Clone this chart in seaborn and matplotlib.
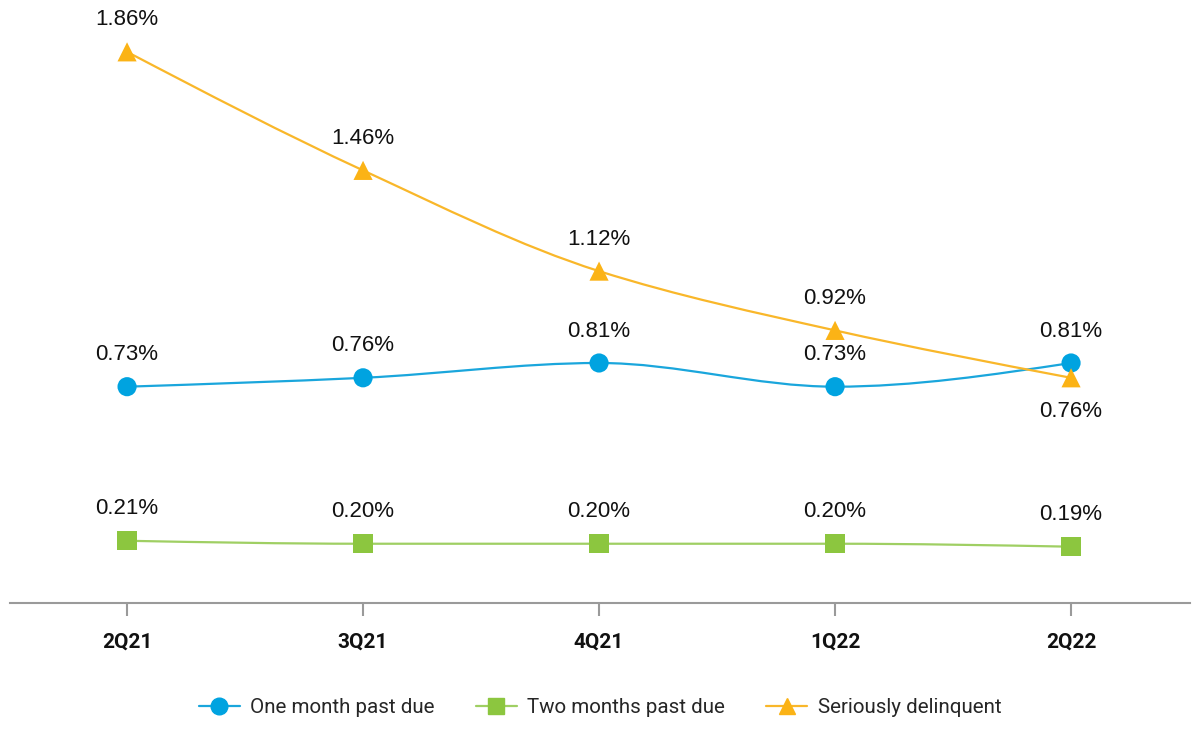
import numpy as np
import pandas as pd
import matplotlib
matplotlib.use("Agg")
import matplotlib.pyplot as plt
import seaborn as sns
from matplotlib.path import Path
from matplotlib.patches import PathPatch
from matplotlib.lines import Line2D

quarters = ["2Q21", "3Q21", "4Q21", "1Q22", "2Q22"]
one_month = [0.73, 0.76, 0.81, 0.73, 0.81]
two_months = [0.21, 0.20, 0.20, 0.20, 0.19]
serious = [1.86, 1.46, 1.12, 0.92, 0.76]
series_names = ["One month past due", "Two months past due", "Seriously delinquent"]
colors = ["#00a3e0", "#8cc63f", "#fbb316"]
line_colors = ["#1aa6dc", "#9fcf63", "#f9b72a"]
markers = ["o", "s", "^"]
label_below = {("Seriously delinquent", 4)}

sns.set_theme(style="white")
plt.rcParams["font.family"] = ["Liberation Sans", "DejaVu Sans"]
narrow = "Roboto"

fig = plt.figure(figsize=(12, 7.5), dpi=100)
ax = fig.add_axes([10 / 1200, 147 / 750, 1180 / 1200, 603 / 750])

df = pd.DataFrame({
    "quarter": quarters * 3,
    "x": list(range(len(quarters))) * 3,
    "value": one_month + two_months + serious,
    "series": sum([[n] * len(quarters) for n in series_names], []),
})


def monotone_path(xs, ys):
    xs = np.asarray(xs, float)
    ys = np.asarray(ys, float)
    n = len(xs)
    h = np.diff(xs)
    d = np.diff(ys) / h
    m = np.zeros(n)
    for i in range(1, n - 1):
        if d[i - 1] * d[i] <= 0:
            m[i] = 0
        else:
            m[i] = 3 * (h[i - 1] + h[i]) / ((2 * h[i] + h[i - 1]) / d[i - 1] + (h[i] + 2 * h[i - 1]) / d[i])
    m[0] = (3 * d[0] - m[1]) / 2
    m[-1] = (3 * d[-1] - m[-2]) / 2
    verts = [(xs[0], ys[0])]
    codes = [Path.MOVETO]
    for i in range(n - 1):
        dx = h[i] / 3
        verts += [(xs[i] + dx, ys[i] + m[i] * dx), (xs[i + 1] - dx, ys[i + 1] - m[i + 1] * dx), (xs[i + 1], ys[i + 1])]
        codes += [Path.CURVE4] * 3
    return Path(verts, codes)


for name, lc in zip(series_names, line_colors):
    sub = df[df.series == name]
    ax.add_patch(PathPatch(monotone_path(sub.x, sub.value), facecolor="none", edgecolor=lc, lw=1.6, zorder=2))

sns.scatterplot(data=df, x="x", y="value", hue="series", style="series",
                palette=dict(zip(series_names, colors)),
                markers=dict(zip(series_names, markers)),
                s=190, edgecolor="none", linewidth=0, ax=ax, legend=False, zorder=3)

for _, r in df.iterrows():
    below = (r.series, r.x) in label_below
    ax.annotate(f"{r.value:.2f}%", (r.x, r.value), xytext=(0, -24 if below else 23),
                textcoords="offset points", ha="center", va="center", fontsize=16, color="#111111")

ax.set_xlim(-0.496, 4.504)
ax.set_ylim(0, 2.035)
ax.set_xticks(range(len(quarters)))
ax.set_xticklabels(quarters, fontfamily=narrow, fontweight="bold", fontsize=15, color="#111111")
ax.set_yticks([])
ax.set_xlabel("")
ax.set_ylabel("")
for s in ["top", "right", "left"]:
    ax.spines[s].set_visible(False)
ax.spines["bottom"].set_color("#9a9a9a")
ax.spines["bottom"].set_linewidth(1.5)
ax.tick_params(axis="x", length=9, width=1.5, color="#9a9a9a", pad=12, bottom=True)

handles = [Line2D([0], [0], color=lc, lw=1.6, marker=m, markersize=12 if m != "s" else 11,
                  markerfacecolor=c, markeredgecolor=c) for lc, c, m in zip(line_colors, colors, markers)]
fig.legend(handles, series_names, loc="center", bbox_to_anchor=(0.5, 0.057), ncol=3, frameon=False,
           handlelength=2.0, columnspacing=2.0, handletextpad=0.5,
           prop={"family": narrow, "size": 14.8})

fig.savefig("out.png", dpi=100)
